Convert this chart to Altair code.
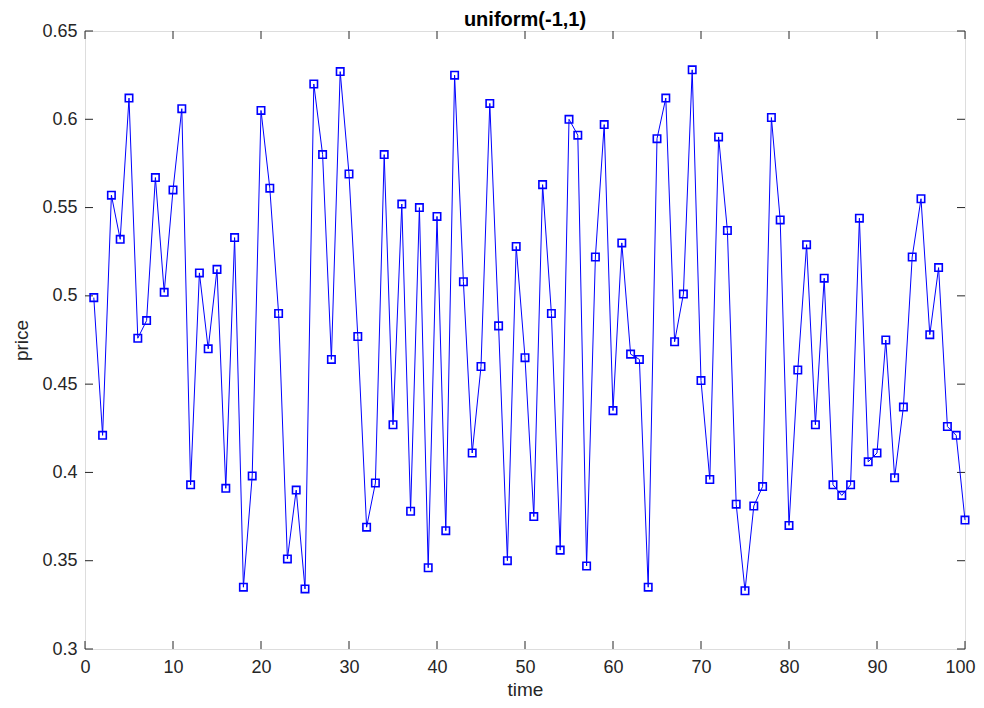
import altair as alt
import pandas as pd

time = list(range(1, 101))
price = [
    0.499, 0.421, 0.557, 0.532, 0.612, 0.476, 0.486, 0.567, 0.502, 0.560,
    0.606, 0.393, 0.513, 0.470, 0.515, 0.391, 0.533, 0.335, 0.398, 0.605,
    0.561, 0.490, 0.351, 0.390, 0.334, 0.620, 0.580, 0.464, 0.627, 0.569,
    0.477, 0.369, 0.394, 0.580, 0.427, 0.552, 0.378, 0.550, 0.346, 0.545,
    0.367, 0.625, 0.508, 0.411, 0.460, 0.609, 0.483, 0.350, 0.528, 0.465,
    0.375, 0.563, 0.490, 0.356, 0.600, 0.591, 0.347, 0.522, 0.597, 0.435,
    0.530, 0.467, 0.464, 0.335, 0.589, 0.612, 0.474, 0.501, 0.628, 0.452,
    0.396, 0.590, 0.537, 0.382, 0.333, 0.381, 0.392, 0.601, 0.543, 0.370,
    0.458, 0.529, 0.427, 0.510, 0.393, 0.387, 0.393, 0.544, 0.406, 0.411,
    0.475, 0.397, 0.437, 0.522, 0.555, 0.478, 0.516, 0.426, 0.421, 0.373,
]
x_ticks = [0, 10, 20, 30, 40, 50, 60, 70, 80, 90, 100]
y_ticks = [0.3, 0.35, 0.4, 0.45, 0.5, 0.55, 0.6, 0.65]

W, H = 880, 618
FONT = "Liberation Sans"
BLUE = "#0000ff"
AXC = "#262626"

df = pd.DataFrame({"time": time, "price": price})
xt = pd.DataFrame({"t": x_ticks})
yt = pd.DataFrame({"p": y_ticks})

xscale = alt.Scale(domain=[0, 100], nice=False, zero=False)
yscale = alt.Scale(domain=[0.3, 0.65], nice=False, zero=False)

xaxis = alt.Axis(values=x_ticks, grid=False, ticks=False, domain=False,
                 labelFont=FONT, labelFontSize=18, labelColor=AXC,
                 labelPadding=9, titleFont=FONT, titleFontSize=19,
                 titleFontWeight="normal", titleColor=AXC, titlePadding=4,
                 labelFlush=False,
                 labelOffset=alt.ExprRef("datum.value == 100 ? -5 : 0"))
yaxis = alt.Axis(values=y_ticks, grid=False, ticks=False, domain=False,
                 format="~g", labelFont=FONT, labelFontSize=18,
                 labelColor=AXC, labelPadding=8, titleFont=FONT,
                 titleFontSize=19, titleFontWeight="normal",
                 titleColor=AXC, titlePadding=10)

line = alt.Chart(df).mark_line(color=BLUE, strokeWidth=1).encode(
    x=alt.X("time:Q", scale=xscale, axis=xaxis, title="time"),
    y=alt.Y("price:Q", scale=yscale, axis=yaxis, title="price"),
)
pts = alt.Chart(df).mark_point(shape="square", filled=False, size=55,
                               strokeWidth=1.6, color=BLUE, opacity=1).encode(
    x=alt.X("time:Q", scale=xscale),
    y=alt.Y("price:Q", scale=yscale),
)

TL = 8
xb = alt.Chart(xt).mark_rule(color=AXC, strokeWidth=1).encode(
    x=alt.X("t:Q", scale=xscale), y=alt.value(H), y2=alt.value(H - TL))
xtp = alt.Chart(xt).mark_rule(color=AXC, strokeWidth=1).encode(
    x=alt.X("t:Q", scale=xscale), y=alt.value(0), y2=alt.value(TL))
yl = alt.Chart(yt).mark_rule(color=AXC, strokeWidth=1).encode(
    y=alt.Y("p:Q", scale=yscale), x=alt.value(0), x2=alt.value(TL))
yr = alt.Chart(yt).mark_rule(color=AXC, strokeWidth=1).encode(
    y=alt.Y("p:Q", scale=yscale), x=alt.value(W), x2=alt.value(W - TL))

chart = alt.layer(xb, xtp, yl, yr, line, pts).properties(
    width=W, height=H,
    title=alt.TitleParams("uniform(-1,1)", font=FONT, fontSize=20,
                          fontWeight="bold", color="#000000", offset=6,
                          dy=14, anchor="middle"),
    autosize=alt.AutoSizeParams(type="none"),
    padding={"left": 77, "top": 23, "right": 11, "bottom": 51},
).configure_view(stroke=AXC, strokeWidth=1).configure(background="white")

chart.save("out.html", embed_options={"renderer": "svg", "actions": False})
